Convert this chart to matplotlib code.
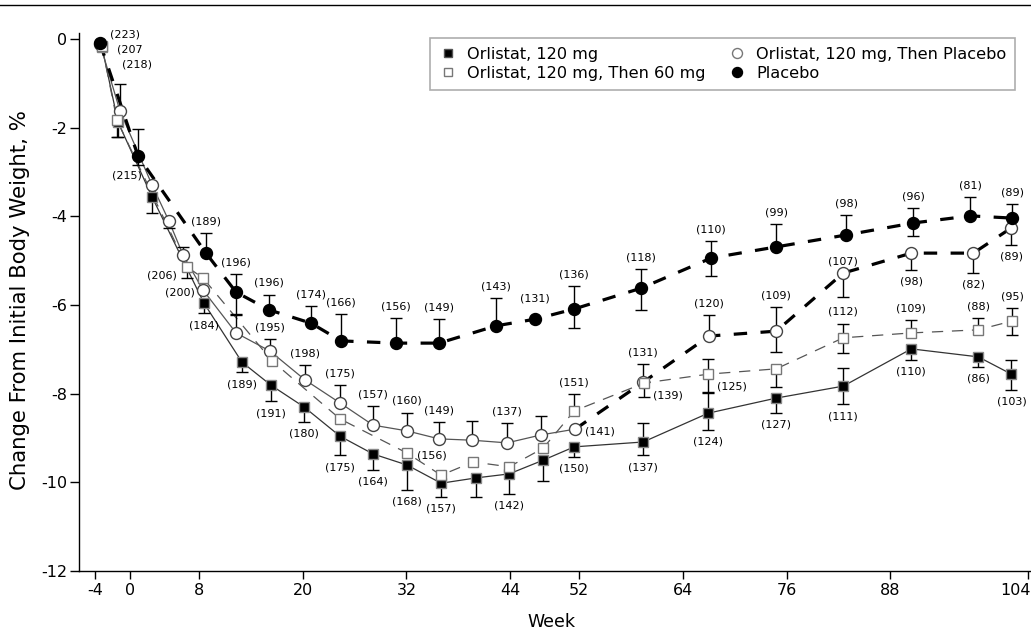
import numpy as np
import matplotlib
matplotlib.use("Agg")
import matplotlib.pyplot as plt
from matplotlib.lines import Line2D
from matplotlib.transforms import ScaledTranslation

plt.rcParams['font.family'] = ['DejaVu Sans']
plt.rcParams['axes.unicode_minus'] = False

# ---------------- data ----------------
xticks = [-4, 0, 8, 20, 32, 44, 52, 64, 76, 88, 104]
yticks = [0, -2, -4, -6, -8, -10, -12]

legend_labels = ["Orlistat, 120 mg", "Orlistat, 120 mg, Then 60 mg",
                 "Orlistat, 120 mg, Then Placebo", "Placebo"]

# Orlistat 120 mg (filled squares)
o120_week = [-3.24, -1.39, 2.55, 8.57, 12.97, 16.33, 20.15, 24.32, 28.14, 32.08, 36.02,
             40.07, 43.89, 47.83, 51.42, 59.41, 66.94, 74.81, 82.57, 90.45, 98.20, 102.03]
o120_val = [-0.18, -1.87, -3.56, -5.96, -7.29, -7.81, -8.30, -8.96, -9.36, -9.61, -10.02,
            -9.90, -9.81, -9.50, -9.20, -9.09, -8.44, -8.10, -7.83, -6.99, -7.17, -7.56]
o120_lo = [0, 0.35, 0.36, 0.23, 0.23, 0.36, 0.34, 0.43, 0.36, 0.56, 0.31,
           0.43, 0.45, 0.47, 0.23, 0.30, 0.38, 0.34, 0.41, 0.25, 0.23, 0.36]
o120_hi = [0, 0, 0, 0, 0, 0, 0, 0, 0, 0, 0,
           0, 0, 0, 0, 0.43, 0.45, 0, 0.41, 0, 0, 0.32]
o120_n = [None, None, None, 184, 189, 191, 180, 175, 164, 168, 157,
          None, 142, None, 150, 137, 124, 127, 111, 110, 86, 103]
o120_pos = [None, None, None, 'b', 'b', 'b', 'b', 'b', 'b', 'b', 'b',
            None, 'b', None, 'b', 'b', 'b', 'b', 'b', 'b', 'b', 'b']

# Orlistat 120 mg, then 60 mg (open squares)
o60_week = [-3.24, -1.51, 6.60, 8.45, 16.44, 24.32, 32.08, 36.02, 39.72, 43.89, 47.83,
            51.42, 59.53, 66.94, 74.81, 82.57, 90.45, 98.20, 102.14]
o60_val = [-0.16, -1.83, -5.14, -5.39, -7.26, -8.57, -9.34, -9.84, -9.54, -9.65, -9.23,
           -8.39, -7.76, -7.56, -7.44, -6.74, -6.63, -6.56, -6.36]
o60_lo = [0, 0.38, 0.25, 0, 0, 0, 0, 0, 0, 0, 0,
          0, 0.32, 0.41, 0.40, 0.34, 0, 0, 0.32]
o60_hi = [0, 0, 0, 0, 0, 0, 0, 0, 0, 0, 0,
          0.38, 0, 0.34, 0, 0.32, 0.29, 0.27, 0.29]
o60_n = [None, None, 206, None, None, None, 156, None, None, None, None,
         151, 139, 125, None, 112, 109, 88, 95]
o60_pos = [None, None, 'bl', None, None, None, 'r', None, None, None, None,
           'a', 'br', 'br', None, 'a', 'a', 'a', 'a']

# Orlistat 120 mg, then placebo (open circles)
opl_week = [-3.47, -1.16, 2.55, 4.52, 6.14, 8.45, 12.28, 16.21, 20.27, 24.32, 28.14, 32.08,
            35.78, 39.61, 43.66, 47.60, 51.53, 59.41, 67.05, 74.81, 82.57, 90.45, 97.63, 102.03]
opl_val = [-0.11, -1.62, -3.29, -4.11, -4.87, -5.66, -6.63, -7.04, -7.69, -8.21, -8.71, -8.84,
           -9.02, -9.05, -9.11, -8.93, -8.80, -7.74, -6.70, -6.59, -5.28, -4.83, -4.83, -4.26]
opl_lo = [0, 0, 0, 0.16, 0, 0, 0, 0, 0, 0, 0, 0,
          0, 0, 0, 0, 0, 0, 0, 0.47, 0.54, 0.38, 0.45, 0.38]
opl_hi = [0, 0.60, 0, 0, 0.18, 0, 0.41, 0.27, 0.34, 0.40, 0.43, 0.41,
          0.38, 0.43, 0.45, 0.43, 0, 0.41, 0.47, 0.54, 0, 0, 0, 0]
opl_n = [None, None, None, None, None, 200, None, 195, 198, 175, 157, 160,
         149, None, 137, None, 141, 131, 120, 109, 107, 98, 82, 89]
opl_pos = [None, None, None, None, None, 'l', None, 'a', 'a', 'a', 'a', 'a',
           'a', None, 'a', None, 'r', 'a', 'a', 'a', 'a', 'b', 'b', 'b']
opl_switch = 16  # index where the line becomes heavy dashed (week 52)

# Placebo (filled circles)
pl_week = [-3.47, 0.93, 8.80, 12.28, 16.10, 20.96, 24.44, 30.80, 35.78, 42.38, 46.90,
           51.42, 59.18, 67.29, 74.81, 82.92, 90.68, 97.28, 102.14]
pl_val = [-0.09, -2.64, -4.83, -5.71, -6.11, -6.41, -6.81, -6.86, -6.86, -6.47, -6.32,
          -6.09, -5.62, -4.94, -4.69, -4.42, -4.15, -3.99, -4.04]
pl_lo = [0, 0.20, 0, 0.50, 0, 0, 0, 0, 0, 0, 0,
         0.43, 0.50, 0.41, 0, 0, 0.29, 0, 0]
pl_hi = [0, 0.60, 0.45, 0.41, 0.34, 0.38, 0.61, 0.56, 0.54, 0.63, 0,
         0.52, 0.43, 0.38, 0.52, 0.45, 0.34, 0.43, 0.32]
pl_n = [None, 215, 189, 196, 196, 174, 166, 156, 149, 143, 131,
        136, 118, 110, 99, 98, 96, 81, 89]
pl_pos = [None, 'sw', 'a', 'a', 'a', 'a', 'a', 'a', 'a', 'a', 'a+',
          'a', 'a', 'a', 'a', 'a', 'a', 'a', 'a']

baseline_labels = ["(223)", "(207", "(218)"]

# ---------------- figure ----------------
W, H = 1031, 633
fig = plt.figure(figsize=(W / 100, H / 100), dpi=100)
ax = fig.add_axes([79 / W, 62 / H, 952 / W, 538 / H])
ax.set_xlim(-5.9, 104.3)
ax.set_ylim(-12, 0.135)

for s in ['top', 'right']:
    ax.spines[s].set_visible(False)
for s in ['left', 'bottom']:
    ax.spines[s].set_linewidth(1.0)
ax.set_xticks(xticks)
ax.set_yticks(yticks)
ax.tick_params(axis='x', direction='out', length=5.8, width=1.0, labelsize=11.5, pad=3)
ax.tick_params(axis='y', direction='out', length=6.5, width=1.0, labelsize=11.5, pad=2)
last = ax.get_xticklabels()[-1]
last.set_ha('right')
last.set_transform(last.get_transform() + ScaledTranslation(2 / 72, 0, fig.dpi_scale_trans))

fig.text(551 / W, 1 - 622 / H, "Week", ha='center', va='center', fontsize=12.5)
fig.text(20 / W, 1 - 300 / H, "Change From Initial Body Weight, %", ha='center',
         va='center', rotation=90, fontsize=15.3)

fig.add_artist(Line2D([0, 1], [1 - 5 / H, 1 - 5 / H], transform=fig.transFigure,
                      color='black', lw=1.0))

OFFS = {'a': (0, 8.5, 'center'), 'a+': (0, 15, 'center'), 'b': (0, -8.5, 'center'),
        'r': (7, -2, 'left'), 'l': (-6, -2, 'right'), 'br': (6.5, -9, 'left'),
        'bl': (-7, -6.5, 'right'), 'sw': (3, -14, 'right')}
NFS = 8


def draw_series(week, val, lo, hi, ns, pos, marker, mfc, mec, ms, mew, z):
    x = np.asarray(week, float)
    y = np.asarray(val, float)
    lo = np.asarray(lo, float)
    hi = np.asarray(hi, float)
    for err, sign in ((hi, 1), (lo, -1)):
        m = err > 0
        if m.any():
            ends = y[m] + sign * err[m]
            ax.vlines(x[m], y[m], ends, color='black', lw=1.0, zorder=z - 0.5)
            ax.plot(x[m], ends, ls='none', marker='_', ms=8.5, mew=1.0,
                    color='black', zorder=z - 0.5)
    ax.plot(x, y, ls='none', marker=marker, ms=ms, mfc=mfc, mec=mec, mew=mew, zorder=z)
    for xi, yi, l, h, n, p in zip(x, y, lo, hi, ns, pos):
        if n is None:
            continue
        dx, dy, ha = OFFS[p]
        if p.startswith('a'):
            yy = yi + h
        elif p == 'b':
            yy = yi - l
        else:
            yy = yi
        ax.annotate(f"({n})", (xi, yy), xytext=(dx, dy), textcoords='offset points',
                    ha=ha, va='center', fontsize=NFS, zorder=6)


# connecting lines
ax.plot(o120_week, o120_val, color='#333333', lw=0.9, zorder=1.5)
ax.plot(o60_week, o60_val, color='#555555', lw=0.9, ls=(0, (9, 7)), zorder=1.6)
ax.plot(opl_week[:opl_switch + 1], opl_val[:opl_switch + 1], color='#555555', lw=0.9, zorder=1.7)
ax.plot(opl_week[opl_switch:], opl_val[opl_switch:], color='black', lw=2.3,
        ls=(0, (4.2, 4.2)), zorder=1.8)
ax.plot(pl_week, pl_val, color='black', lw=2.3, ls=(0, (4.2, 4.2)), zorder=1.9)

draw_series(o120_week, o120_val, o120_lo, o120_hi, o120_n, o120_pos,
            's', 'black', '#888888', 7.2, 1.0, 3.0)
draw_series(opl_week, opl_val, opl_lo, opl_hi, opl_n, opl_pos,
            'o', 'white', '#444444', 8.6, 1.0, 3.2)
draw_series(o60_week, o60_val, o60_lo, o60_hi, o60_n, o60_pos,
            's', 'white', '#777777', 7.2, 1.0, 3.4)
draw_series(pl_week, pl_val, pl_lo, pl_hi, pl_n, pl_pos,
            'o', 'black', 'black', 8.6, 1.0, 3.6)

for txt, (dx, dy) in zip(baseline_labels, [(7.2, 5.8), (12.2, -5.0), (15.8, -15.8)]):
    ax.annotate(txt, (pl_week[0], pl_val[0]), xytext=(dx, dy), textcoords='offset points',
                ha='left', va='center', fontsize=NFS, zorder=6, annotation_clip=False)

handles = [
    Line2D([], [], ls='none', marker='s', ms=6.2, mfc='black', mec='#555555'),
    Line2D([], [], ls='none', marker='s', ms=6.2, mfc='white', mec='#777777'),
    Line2D([], [], ls='none', marker='o', ms=7.2, mfc='white', mec='#777777'),
    Line2D([], [], ls='none', marker='o', ms=7.2, mfc='black', mec='black'),
]
leg = ax.legend(handles, legend_labels, ncol=2, loc='upper left',
                bbox_to_anchor=(0.369, 0.99), borderaxespad=0, fontsize=11.6,
                frameon=True, fancybox=False, edgecolor='#999999', handlelength=1.15,
                handletextpad=0.6, columnspacing=1.4, labelspacing=0.26, borderpad=0.53)
leg.get_frame().set_linewidth(1.2)

fig.savefig("out.png", dpi=100)
